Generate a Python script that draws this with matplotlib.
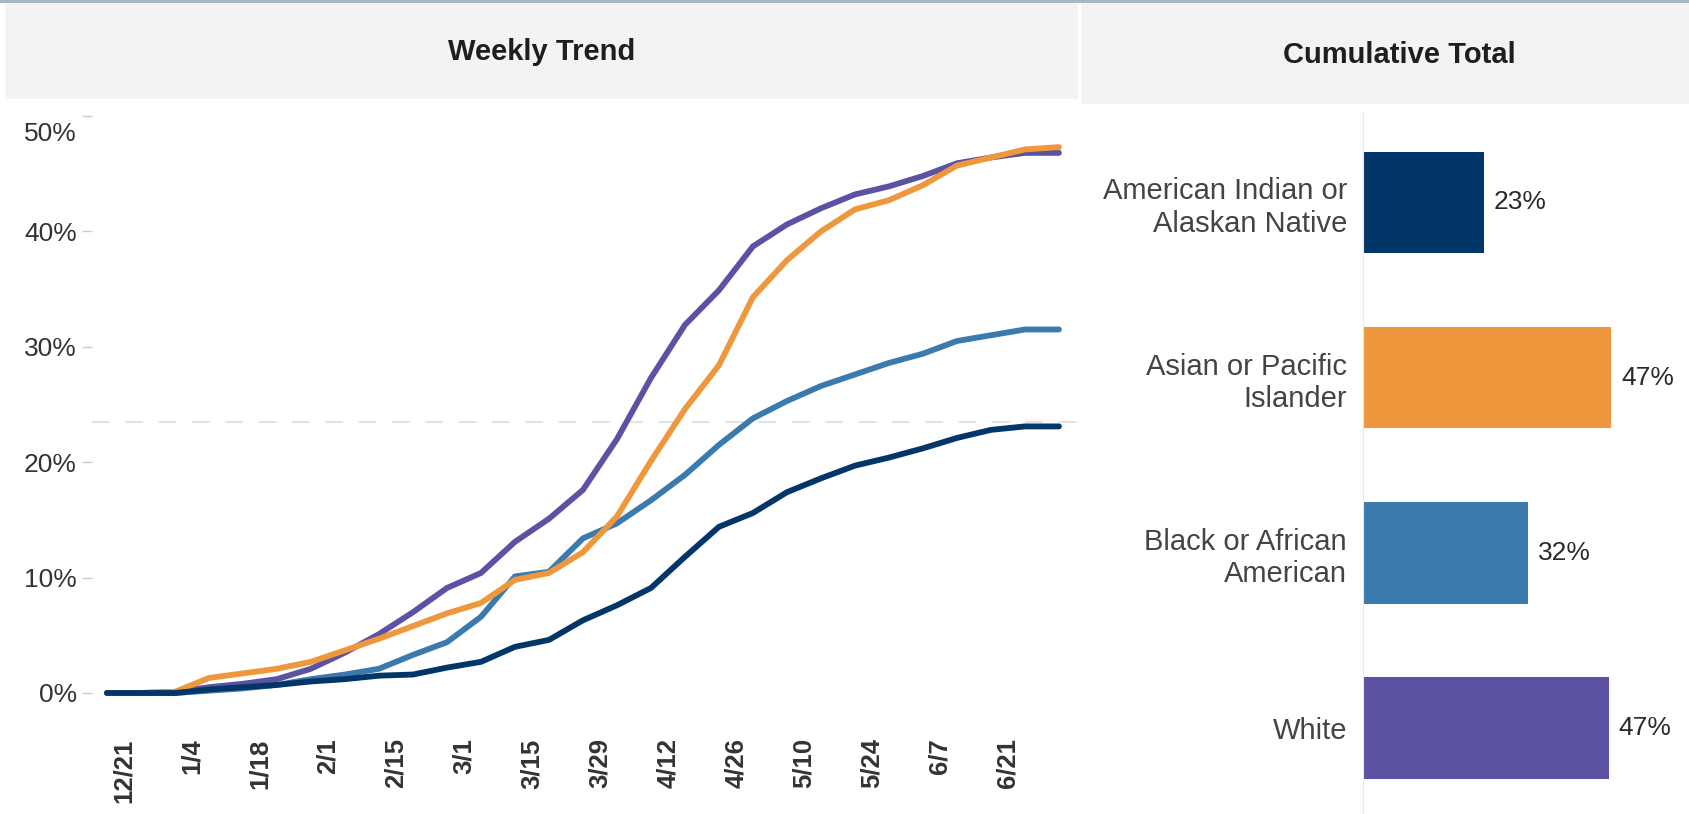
import numpy as np
import matplotlib
matplotlib.use("Agg")
import matplotlib.pyplot as plt
from matplotlib.patches import Rectangle
from matplotlib.transforms import ScaledTranslation

plt.rcParams['font.family'] = ['Liberation Sans', 'DejaVu Sans']

# data
groups = ["American Indian or\nAlaskan Native", "Asian or Pacific\nIslander",
          "Black or African\nAmerican", "White"]
colors = ["#033668", "#ef973c", "#3a7aad", "#5b52a4"]

week_labels = ["12/21", "1/4", "1/18", "2/1", "2/15", "3/1", "3/15", "3/29",
               "4/12", "4/26", "5/10", "5/24", "6/7", "6/21"]

aian = [0, 0, 0, 0.3, 0.5, 0.7, 1.0, 1.2, 1.5, 1.6, 2.2, 2.7, 4.0, 4.6, 6.3, 7.6,
        9.1, 11.8, 14.4, 15.6, 17.4, 18.6, 19.7, 20.4, 21.2, 22.1, 22.8, 23.1, 23.1]
asian = [0, 0, 0.1, 1.3, 1.7, 2.1, 2.7, 3.7, 4.7, 5.8, 6.9, 7.8, 9.8, 10.4, 12.2, 15.3,
         20.1, 24.6, 28.4, 34.3, 37.5, 40.0, 41.9, 42.7, 44.0, 45.7, 46.4, 47.1, 47.3]
black = [0, 0, 0, 0.2, 0.4, 0.7, 1.2, 1.6, 2.1, 3.3, 4.4, 6.6, 10.1, 10.5, 13.4, 14.7,
         16.7, 18.9, 21.5, 23.8, 25.3, 26.6, 27.6, 28.6, 29.4, 30.5, 31.0, 31.5, 31.5]
white = [0, 0, 0.1, 0.5, 0.8, 1.2, 2.1, 3.5, 5.1, 7.0, 9.1, 10.4, 13.1, 15.1, 17.6, 22.0,
         27.3, 31.9, 34.9, 38.7, 40.6, 42.0, 43.2, 43.9, 44.8, 45.9, 46.4, 46.8, 46.8]

cumulative = [23.1, 47.3, 31.5, 46.8]
ref_value = 23.5

W, H = 1690, 814
fig = plt.figure(figsize=(W / 100, H / 100), dpi=100)


def box(x0, y0, x1, y1):
    # pixel box (from top-left) -> figure fraction rect
    return [x0 / W, 1 - y1 / H, (x1 - x0) / W, (y1 - y0) / H]


def add_rect(x0, y0, x1, y1, color):
    l, b, w, h = box(x0, y0, x1, y1)
    fig.add_artist(Rectangle((l, b), w, h, transform=fig.transFigure,
                             facecolor=color, edgecolor="none", zorder=0))


# header bands
add_rect(0, 0, W, 3, "#a9b6c4")
add_rect(5, 3, 1078, 99, "#f3f3f3")
add_rect(1081, 3, W, 104, "#f3f3f3")
fig.text(542 / W, 1 - 52 / H, "Weekly Trend", ha="center", va="center",
         fontsize=21, fontweight="bold", color="#1e1e1e")
fig.text(1399 / W, 1 - 55 / H, "Cumulative Total", ha="center", va="center",
         fontsize=21, fontweight="bold", color="#1e1e1e")

# weekly trend lines
ax = fig.add_axes(box(92, 105, 1078, 705))
x = np.arange(len(aian))
for vals, c, z in [(white, colors[3], 2), (black, colors[2], 3),
                   (asian, colors[1], 4), (aian, colors[0], 5)]:
    ax.plot(x, vals, color=c, lw=4.2, zorder=z,
            solid_capstyle="round", solid_joinstyle="round")
ax.axhline(ref_value, color="#e2e2e2", lw=1.5, ls=(0, (8.5, 7.5)), zorder=1)

ax.set_xlim(-0.44, 28.56)
ax.set_ylim(-1.04, 50.95)
for s in ax.spines.values():
    s.set_visible(False)

yt = [0, 10, 20, 30, 40, 50]
ax.set_yticks(yt, [f"{t}%" for t in yt])
ax.tick_params(axis="y", length=7, width=1, color="#cccccc", pad=4,
               labelsize=19, labelcolor="#333333")
top_lbl = ax.get_yticklabels()[-1]
top_lbl.set_va("top")
top_lbl.set_transform(top_lbl.get_transform() +
                      ScaledTranslation(0, -4 / 72, fig.dpi_scale_trans))

ax.set_xticks(np.arange(len(week_labels)) * 2 + 0.5, week_labels,
              rotation=90, fontweight="bold", fontsize=18.5)
ax.tick_params(axis="x", length=0, pad=24, labelcolor="#333333")

# cumulative total bars
ax2 = fig.add_axes(box(1363, 113, W, H))
ypos = np.arange(len(groups))
bars = ax2.barh(ypos, cumulative, height=0.58, color=colors)
ax2.bar_label(bars, labels=[f"{v:.0f}%" for v in cumulative], padding=7,
              fontsize=19, color="#2a2a2a")
ax2.set_ylim(len(groups) - 0.51, -0.51)
ax2.set_xlim(0, 62.3)
ax2.set_yticks(ypos, groups)
ax2.set_xticks([])
ax2.tick_params(axis="y", length=0, pad=11.5, labelsize=21, labelcolor="#444444")
for name, s in ax2.spines.items():
    s.set_visible(name == "left")
ax2.spines["left"].set_color("#e8e8e8")

fig.savefig("out.png", dpi=100)
